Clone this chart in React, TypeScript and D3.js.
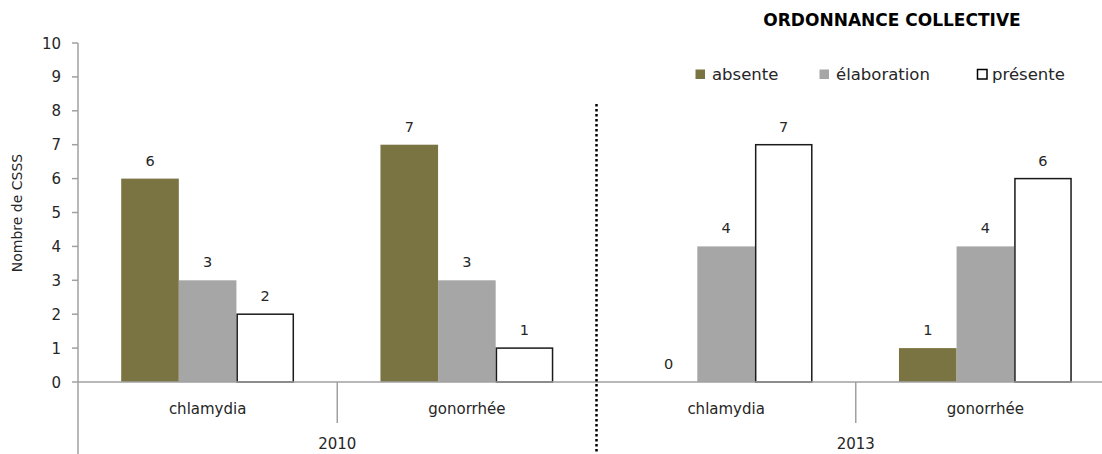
import React from 'react';
import * as d3 from 'd3';

const years = ['2010', '2013'];
const diseases = ['chlamydia', 'gonorrhée'];
const seriesNames = ['absente', 'élaboration', 'présente'];
const absente = [6, 7, 0, 1];
const elaboration = [3, 3, 4, 4];
const presente = [2, 1, 7, 6];
const yTicks = [0, 1, 2, 3, 4, 5, 6, 7, 8, 9, 10];

const W = 1102;
const H = 454;
const FONT = '"DejaVu Sans", Verdana, sans-serif';
const TXT = '#262626';
const AXIS = '#a0a0a0';

const fills = ['#7a7442', '#a6a6a6', '#ffffff'];
const strokes = ['none', 'none', '#1a1a1a'];

const App: React.FC = () => {
  const cats = years.flatMap(y => diseases.map(d => `${y}|${d}`));
  const values = [absente, elaboration, presente];

  const left = 78;
  const right = 1115;
  const y = d3.scaleLinear().domain([0, 10]).range([382, 43]);
  const x0 = d3.scaleBand<string>().domain(cats).range([left, right]);
  const xYear = d3.scaleBand<string>().domain(years).range([left, right]);
  const x1 = d3.scaleBand<string>().domain(seriesNames).range([0, x0.bandwidth()]).paddingInner(0).paddingOuter(0.75);

  const base = y(0);

  const legendX = [695, 819, 977];

  return (
    <svg width={W} height={H} style={{ position: 'absolute', left: 0, top: 0, fontFamily: FONT }}>
      <rect width={W} height={H} fill="#fff" />

      {/* title */}
      <text x={892} y={26} textAnchor="middle" fontWeight="bold" fontSize={17} fill="#000">
        ORDONNANCE COLLECTIVE
      </text>

      {/* legend */}
      {seriesNames.map((s, i) => (
        <g key={s} transform={`translate(${legendX[i]},69)`}>
          <rect x={0.5} y={0.5} width={9.5} height={9.5} fill={fills[i]} stroke={i === 2 ? '#000' : 'none'} strokeWidth={1.5} />
          <text x={i === 2 ? 15 : 17} y={11} fontSize={16.5} fill={TXT}>{s}</text>
        </g>
      ))}

      {/* y axis */}
      <line x1={left} x2={left} y1={y(10)} y2={H} stroke={AXIS} strokeWidth={1.5} />
      {yTicks.map(t => (
        <g key={t}>
          <line x1={left - 6} x2={left} y1={y(t)} y2={y(t)} stroke={AXIS} strokeWidth={1.5} />
          <text x={61} y={y(t) + 5.5} textAnchor="end" fontSize={15} fill={TXT}>{t}</text>
        </g>
      ))}
      <text transform={`translate(22,${213}) rotate(-90)`} textAnchor="middle" fontSize={14} fill={TXT}>
        Nombre de CSSS
      </text>

      {/* bars */}
      {cats.map((c, ci) => (
        <g key={c} transform={`translate(${x0(c)},0)`}>
          {seriesNames.map((s, si) => {
            const v = values[si][ci];
            const bx = x1(s)!;
            return (
              <g key={s}>
                {v > 0 && (
                  <rect
                    x={bx + (si === 2 ? 0.75 : 0)}
                    y={y(v)}
                    width={x1.bandwidth() - (si === 2 ? 1.5 : 0)}
                    height={base - y(v)}
                    fill={fills[si]}
                    stroke={strokes[si]}
                    strokeWidth={1.5}
                  />
                )}
                <text x={bx + x1.bandwidth() / 2} y={y(v) - 13} textAnchor="middle" fontSize={14.5} fill={TXT}>
                  {v}
                </text>
              </g>
            );
          })}
        </g>
      ))}

      {/* x axis */}
      <line x1={left} x2={W} y1={base} y2={base} stroke={AXIS} strokeWidth={1.5} />
      {cats.map((c, ci) =>
        ci % diseases.length === 1 ? (
          <line key={c} x1={x0(c)!} x2={x0(c)!} y1={base} y2={423} stroke={AXIS} strokeWidth={1.5} />
        ) : null
      )}
      {cats.map(c => (
        <text key={c} x={x0(c)! + x0.bandwidth() / 2} y={414} textAnchor="middle" fontSize={15} fill={TXT}>
          {c.split('|')[1]}
        </text>
      ))}
      {years.map(yr => (
        <text key={yr} x={xYear(yr)! + xYear.bandwidth() / 2} y={449} textAnchor="middle" fontSize={15} fill={TXT}>
          {yr}
        </text>
      ))}

      {/* year separator */}
      <line
        x1={xYear('2013')!}
        x2={xYear('2013')!}
        y1={104}
        y2={H}
        stroke="#000"
        strokeWidth={2.5}
        strokeDasharray="2.5,2.5"
      />
    </svg>
  );
};

export default App;
